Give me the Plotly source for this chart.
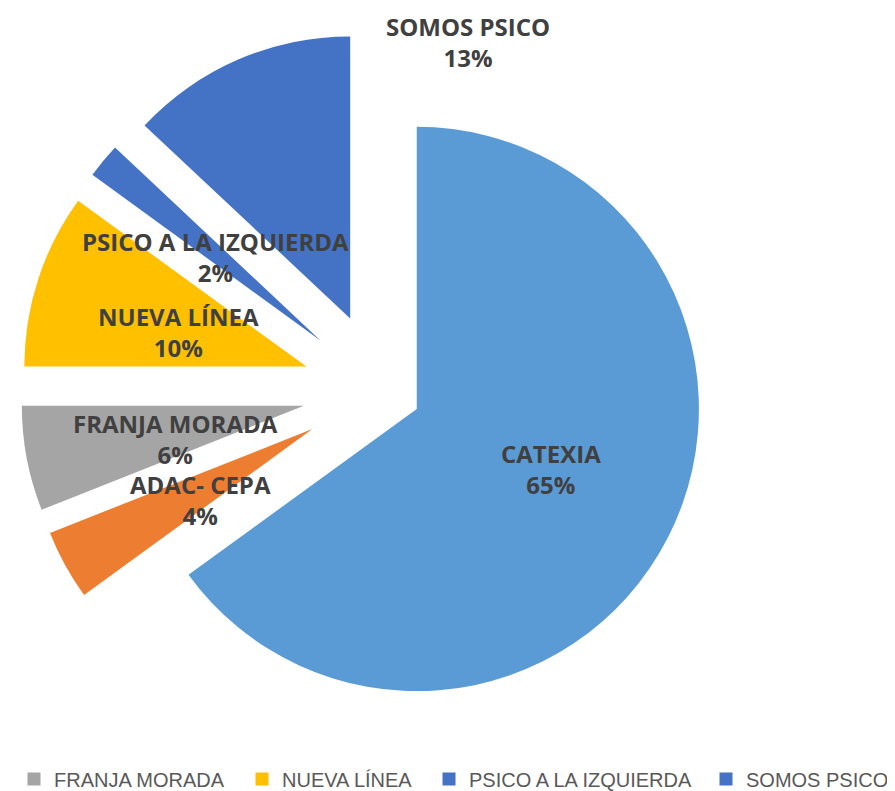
import plotly.graph_objects as go

labels = ["CATEXIA", "ADAC- CEPA", "FRANJA MORADA", "NUEVA LÍNEA", "PSICO A LA IZQUIERDA", "SOMOS PSICO"]
values = [65, 4, 6, 10, 2, 13]
colors = ["#5B9BD5", "#ED7D31", "#A5A5A5", "#FFC000", "#4472C4", "#4472C4"]
pulls = [0.14, 0.28, 0.28, 0.28, 0.28, 0.28]

# legend only shows these four (the rest are cut off in the original)
legend_labels = ["FRANJA MORADA", "NUEVA LÍNEA", "PSICO A LA IZQUIERDA", "SOMOS PSICO"]
legend_x = [6, 234, 421, 698]

# label block centres, in pixels of the 895x791 canvas
label_pos = {
    "CATEXIA": (543, 463),
    "ADAC- CEPA": (192, 495),
    "FRANJA MORADA": (167, 433),
    "NUEVA LÍNEA": (170, 326),
    "PSICO A LA IZQUIERDA": (207, 250),
    "SOMOS PSICO": (460, 34),
}

W, H = 895, 791
total = sum(values)

fig = go.Figure()
fig.add_trace(
    go.Pie(
        labels=labels,
        values=values,
        sort=False,
        direction="clockwise",
        rotation=0,
        pull=pulls,
        marker=dict(colors=colors, line=dict(width=0)),
        textinfo="none",
        hoverinfo="label+percent",
        showlegend=False,
        domain=dict(x=[0.0118, 0.8230], y=[0.0544, 0.9722]),
    )
)

for i, name in enumerate(legend_labels):
    col = colors[labels.index(name)]
    lg = "legend" if i == 0 else f"legend{i + 1}"
    fig.add_trace(
        go.Scatter(
            x=[None], y=[None], mode="markers", name=name,
            marker=dict(symbol="square", size=13, color=col),
            legend=lg, showlegend=True,
        )
    )

legend_style = dict(
    orientation="h", yanchor="middle", y=1 - 775 / H, xanchor="left",
    font=dict(family="Liberation Sans, Arial, sans-serif", size=20, color="#595959"),
    bgcolor="rgba(0,0,0,0)",
)
fig.update_layout(
    legend=dict(x=legend_x[0] / W, **legend_style),
    legend2=dict(x=legend_x[1] / W, **legend_style),
    legend3=dict(x=legend_x[2] / W, **legend_style),
    legend4=dict(x=legend_x[3] / W, **legend_style),
)

for name, v in zip(labels, values):
    px_, py_ = label_pos[name]
    fig.add_annotation(
        x=px_ / W, y=1 - py_ / H, xref="paper", yref="paper",
        text=f"{name}<br>{round(100 * v / total)}%",
        showarrow=False, xanchor="center", yanchor="middle", borderpad=0,
        font=dict(family="Open Sans, sans-serif", size=24, color="#404040", weight="bold"),
    )

fig.update_layout(
    width=W, height=H,
    margin=dict(l=0, r=0, t=0, b=0),
    paper_bgcolor="white",
    plot_bgcolor="white",
    xaxis=dict(visible=False),
    yaxis=dict(visible=False),
)

fig.write_html("out.html")
